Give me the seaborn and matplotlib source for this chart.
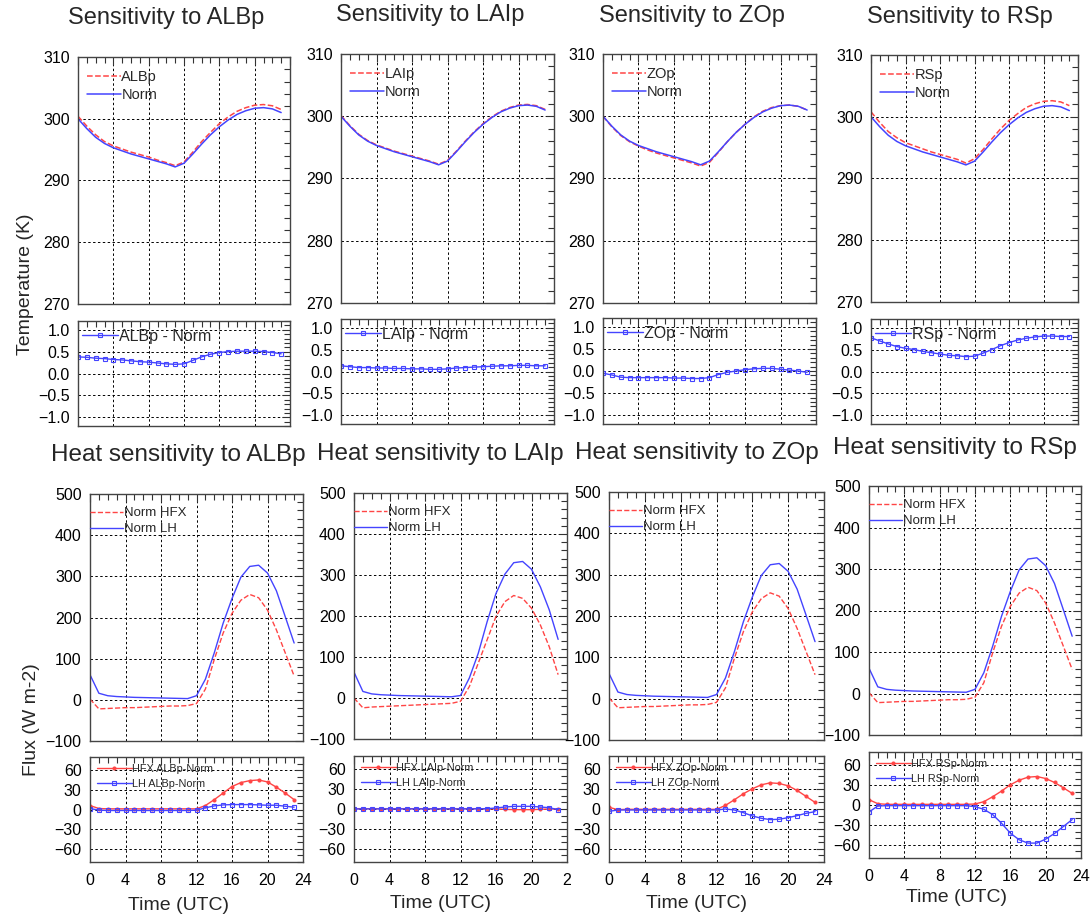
import matplotlib
matplotlib.use("Agg")
from matplotlib import pyplot as plt
from matplotlib.ticker import MultipleLocator, FixedLocator, FixedFormatter
import seaborn as sns

# ---- data (hourly, 0-23 UTC) ----
hours = list(range(24))
params = ["ALBp", "LAIp", "ZOp", "RSp"]

t_norm = [300.0, 298.4, 297.0, 296.0, 295.3, 294.8, 294.3, 293.9, 293.5, 293.1, 292.7, 292.2,
          292.8, 294.3, 295.9, 297.4, 298.7, 299.8, 300.7, 301.3, 301.7, 301.8, 301.6, 301.0]
t_albp = [300.4, 298.8, 297.4, 296.3, 295.6, 295.1, 294.6, 294.2, 293.8, 293.3, 292.9, 292.4,
          293.0, 294.6, 296.3, 297.8, 299.2, 300.3, 301.2, 301.8, 302.2, 302.3, 302.1, 301.5]
t_laip = [300.1, 298.5, 297.1, 296.1, 295.4, 294.9, 294.4, 294.0, 293.6, 293.2, 292.8, 292.3,
          292.9, 294.4, 296.0, 297.5, 298.8, 299.9, 300.8, 301.4, 301.8, 301.9, 301.7, 301.1]
t_zop = [300.0, 298.3, 296.9, 295.9, 295.2, 294.6, 294.1, 293.7, 293.3, 292.9, 292.5, 292.0,
         292.6, 294.2, 295.9, 297.4, 298.7, 299.9, 300.8, 301.4, 301.7, 301.8, 301.6, 301.0]
t_rsp = [300.8, 299.1, 297.6, 296.6, 295.8, 295.3, 294.8, 294.3, 293.9, 293.5, 293.1, 292.5,
         293.2, 294.7, 296.4, 298.0, 299.4, 300.5, 301.5, 302.1, 302.5, 302.6, 302.4, 301.8]

dt_albp = [0.38, 0.37, 0.35, 0.34, 0.32, 0.31, 0.29, 0.27, 0.26, 0.24, 0.22, 0.21,
           0.22, 0.30, 0.38, 0.44, 0.48, 0.50, 0.51, 0.51, 0.51, 0.50, 0.48, 0.45]
dt_laip = [0.13, 0.11, 0.09, 0.09, 0.08, 0.08, 0.07, 0.07, 0.06, 0.06, 0.05, 0.05,
           0.06, 0.08, 0.09, 0.10, 0.11, 0.12, 0.13, 0.13, 0.14, 0.14, 0.13, 0.13]
dt_zop = [-0.05, -0.09, -0.14, -0.15, -0.15, -0.15, -0.15, -0.15, -0.16, -0.16, -0.17, -0.17,
          -0.15, -0.08, -0.03, 0.00, 0.03, 0.05, 0.06, 0.06, 0.04, 0.02, 0.00, -0.03]
dt_rsp = [0.77, 0.70, 0.63, 0.57, 0.53, 0.50, 0.46, 0.43, 0.40, 0.37, 0.36, 0.34,
          0.35, 0.42, 0.50, 0.59, 0.66, 0.72, 0.76, 0.79, 0.81, 0.81, 0.80, 0.80]

hfx_norm = [2, -22, -21, -20, -19, -19, -18, -17, -16, -15, -15, -14,
            -9, 26, 98, 162, 210, 242, 256, 248, 218, 170, 114, 58]
lh_norm = [61, 16, 10, 8, 7, 6, 5.5, 5, 4.5, 4, 3.5, 3,
           10, 50, 114, 186, 246, 298, 324, 327, 308, 265, 202, 138]
# the LAIp column shows a slightly different "Norm" curve
hfx_norm_laip = [0, -24, -22, -21, -20, -19, -18, -17, -16, -15, -14, -13,
                 -8, 28, 85, 142, 199, 235, 250, 243, 219, 178, 125, 57]
lh_norm_laip = [63, 16, 10, 8, 7, 6, 5.5, 5, 4.5, 4, 3.5, 3,
                6, 49, 109, 186, 255, 302, 330, 333, 314, 271, 215, 143]

dhfx_albp = [6, 1.5, 1, 1, 1, 1, 1, 1, 1, 1, 1, 1,
             1, 6, 15, 25, 35, 41, 44, 45, 42, 34, 25, 15]
dlh_albp = [1.5, -1, -1.5, -1.5, -1.5, -1.5, -1.5, -1.5, -1.5, -1.5, -1.5, -1.5,
            -1, 2.5, 5.5, 7, 7.5, 7.5, 7.5, 7, 6.5, 6.5, 5, 3.5]
dhfx_laip = [0.5, 0.5, 0.5, 0.5, 0.5, 0.5, 0.5, 0.5, 0.5, 0.5, 0.5, 0.5,
             0.5, 0.5, 0.5, 0.3, 0, -0.5, -1, -1, -1, -0.5, 0, 0]
dlh_laip = [0, 0.2, 0.2, 0.2, 0.2, 0.2, 0.2, 0.2, 0.2, 0.2, 0.2, 0.2,
            0.2, 0.2, 0.3, 0.5, 1.5, 3, 4, 4, 4, 3, 2, -1]
dhfx_zop = [2.5, -1, -0.5, -0.5, -0.5, -0.5, -0.5, -0.5, -0.5, -0.5, -0.5, -0.5,
            -0.5, 5.5, 14, 23, 30.5, 36.5, 39.5, 38.5, 35, 28, 19, 10]
dlh_zop = [-3.5, -1.5, -1.5, -1.5, -1.5, -1.5, -1.5, -1.5, -1.5, -1.5, -1.5, -1.5,
           -1.5, 0, -1.5, -5.5, -10.5, -14, -16, -15.5, -13, -10, -6.5, -4]
dhfx_rsp = [8, 2, 1, 1, 1, 1, 1, 1, 1, 1, 1, 1,
            1.5, 5, 12.5, 21, 30.5, 37.5, 42, 43, 40, 34, 26, 17.5]
dlh_rsp = [-10.5, -1.5, -1, -1, -1, -1, -1, -1, -1, -1, -1, -1,
           -2.5, -6.5, -14.5, -27.5, -42.5, -52.5, -57.5, -57.5, -51.5, -43, -32.5, -22]

t_pert = [t_albp, t_laip, t_zop, t_rsp]
t_diff = [dt_albp, dt_laip, dt_zop, dt_rsp]
hfx_top = [hfx_norm, hfx_norm_laip, hfx_norm, hfx_norm]
lh_top = [lh_norm, lh_norm_laip, lh_norm, lh_norm]
hfx_diff = [dhfx_albp, dhfx_laip, dhfx_zop, dhfx_rsp]
lh_diff = [dlh_albp, dlh_laip, dlh_zop, dlh_rsp]
time_ticks = [0, 4, 8, 12, 16, 20, 24]
time_labels = [["0", "4", "8", "12", "16", "20", "24"],
               ["0", "4", "8", "12", "16", "20", "2"],
               ["0", "4", "8", "12", "16", "20", "24"],
               ["0", "4", "8", "12", "16", "20", "24"]]

# ---- layout (pixel boxes: left, top, right, bottom) ----
W, H = 1091, 917
box_temp = [(78, 57, 290, 304), (341, 54, 554, 303), (603, 54, 816, 303), (871, 55, 1078, 302)]
box_tdiff = [(78, 321, 290, 426), (341, 319, 554, 424), (603, 318, 816, 424), (871, 319, 1078, 424)]
box_flux = [(90, 494, 303, 741), (354, 493, 567, 739), (609, 492, 824, 740), (869, 486, 1081, 735)]
box_fdiff = [(90, 757, 303, 862), (354, 756, 567, 862), (609, 756, 824, 862), (869, 752, 1081, 858)]
title_pos = [(166, 18), (430, 15), (692, 16), (960, 17)]
heat_title_pos = [(178, 455), (440, 454), (697, 453), (955, 448)]
xlabel_pos = [(178, 905), (441, 903), (697, 903), (956, 898)]

RED = "#ff4545"
BLUE = "#4444ff"

sns.set_style("white")
plt.rcParams["font.family"] = ["Liberation Sans", "DejaVu Sans"]

fig = plt.figure(figsize=(W / 100, H / 100), dpi=100)


def add_ax(b):
    l, t, r, btm = b
    return fig.add_axes([l / W, 1 - btm / H, (r - l) / W, (btm - t) / H])


def style(ax, ylim, major, minor, xlabels=None, fs=11.5):
    ax.set_xlim(0, 24)
    ax.set_ylim(*ylim)
    ax.xaxis.set_major_locator(FixedLocator(time_ticks))
    ax.xaxis.set_minor_locator(MultipleLocator(1))
    ax.yaxis.set_major_locator(MultipleLocator(major))
    ax.yaxis.set_minor_locator(MultipleLocator(minor))
    ax.tick_params(which="both", direction="in", top=True, right=True,
                   colors="#333333", labelcolor="black", labelsize=fs, pad=6)
    ax.tick_params(which="major", length=6, width=0.8)
    ax.tick_params(which="minor", length=4, width=0.8)
    if xlabels is None:
        ax.tick_params(axis="x", labelbottom=False)
    else:
        ax.xaxis.set_major_formatter(FixedFormatter(xlabels))
        ax.tick_params(axis="x", pad=8)
    ax.grid(True, which="major", color="black", linestyle=(0, (2.5, 2.5)), linewidth=0.7)
    for s in ax.spines.values():
        s.set_color("#444444")
        s.set_linewidth(1.0)
    ax.set_xlabel("")
    ax.set_ylabel("")


def place_legend(ax, b, dx, dy, fs, hl, ls=0.2):
    w = b[2] - b[0]
    h = b[3] - b[1]
    ax.legend(loc="upper left", bbox_to_anchor=(dx / w, 1 - dy / h), frameon=False,
              fontsize=fs, handlelength=hl, handletextpad=0.05, labelspacing=ls,
              borderaxespad=0, borderpad=0)


for i, p in enumerate(params):
    # temperature
    ax = add_ax(box_temp[i])
    sns.lineplot(x=hours, y=t_pert[i], ax=ax, color=RED, linestyle="--", dashes=(4, 2),
                 linewidth=1.1, label=p)
    sns.lineplot(x=hours, y=t_norm, ax=ax, color=BLUE, linewidth=1.1, label="Norm")
    style(ax, (270, 310), 10, 2)
    place_legend(ax, box_temp[i], 9, 13, 10.5, 2.3, 0.25)

    # temperature difference
    ax = add_ax(box_tdiff[i])
    sns.lineplot(x=hours, y=t_diff[i], ax=ax, color=BLUE, linewidth=1.0, marker="s",
                 markersize=3, markerfacecolor="none", markeredgecolor=BLUE,
                 markeredgewidth=0.8, label=p + " - Norm")
    style(ax, (-1.2, 1.2), 0.5, 0.1)
    place_legend(ax, box_tdiff[i], 4, 8, 11.5, 2.25)

    # heat fluxes
    ax = add_ax(box_flux[i])
    sns.lineplot(x=hours, y=hfx_top[i], ax=ax, color=RED, linestyle="--", dashes=(4, 2),
                 linewidth=1.0, label="Norm HFX")
    sns.lineplot(x=hours, y=lh_top[i], ax=ax, color=BLUE, linewidth=1.0, label="Norm LH")
    style(ax, (-100, 500), 100, 20)
    place_legend(ax, box_flux[i], 0, 13, 9.5, 2.5, 0.3)

    # flux differences
    ax = add_ax(box_fdiff[i])
    sns.lineplot(x=hours, y=hfx_diff[i], ax=ax, color=RED, linewidth=1.0, marker="o",
                 markersize=2.2, markeredgecolor=RED, label="HFX " + p + "-Norm")
    sns.lineplot(x=hours, y=lh_diff[i], ax=ax, color=BLUE, linewidth=1.0, marker="s",
                 markersize=3, markerfacecolor="none", markeredgecolor=BLUE,
                 markeredgewidth=0.8, label="LH " + p + "-Norm")
    style(ax, (-80, 80), 30, 10, xlabels=time_labels[i])
    place_legend(ax, box_fdiff[i], 7, 7, 7.8, 3.2, 0.45)

    # titles and axis text
    x, y = title_pos[i]
    fig.text(x / W, 1 - y / H, "Sensitivity to " + p, ha="center", va="center", fontsize=17)
    x, y = heat_title_pos[i]
    fig.text(x / W, 1 - y / H, "Heat sensitivity to " + p, ha="center", va="center", fontsize=17.5)
    x, y = xlabel_pos[i]
    fig.text(x / W, 1 - y / H, "Time (UTC)", ha="center", va="center", fontsize=14)

fig.text(25 / W, 1 - 284 / H, "Temperature (K)", rotation=90, ha="center", va="center", fontsize=14)
fig.text(31 / W, 1 - 720 / H, "Flux (W m-2)", rotation=90, ha="center", va="center", fontsize=14)

fig.savefig("out.png", dpi=100)
